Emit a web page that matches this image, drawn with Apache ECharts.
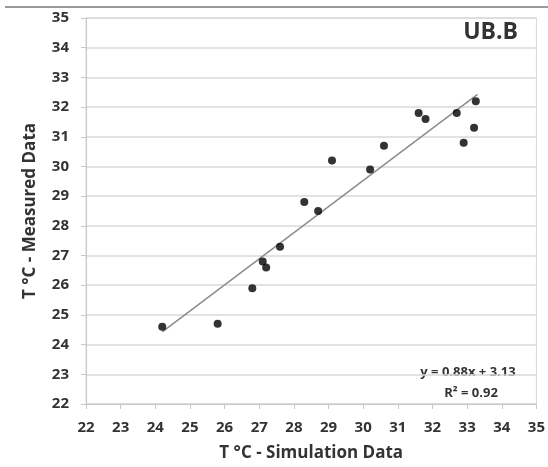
<!DOCTYPE html>
<html>
<head>
<meta charset="utf-8">
<script src="https://cdn.jsdelivr.net/npm/echarts@6/dist/echarts.min.js"></script>
<style>
  html, body { margin: 0; padding: 0; background: #fff; }
  #main { width: 548px; height: 467px; }
</style>
</head>
<body>
<div id="main"></div>
<script>
// simulated vs measured temperatures (UB.B)
const simX = [24.2, 25.8, 26.8, 27.1, 27.2, 27.6, 28.3, 28.7, 29.1, 30.2, 30.6, 31.6, 31.8, 32.7, 32.9, 33.2, 33.25];
const measY = [24.6, 24.7, 25.9, 26.8, 26.6, 27.3, 28.8, 28.5, 30.2, 29.9, 30.7, 31.8, 31.6, 31.8, 30.8, 31.3, 32.2];
// linear fit line ends
const trendX = [24.2, 33.3];
const trendY = [24.43, 32.43];
const axisMin = 22, axisMax = 35, axisStep = 1;

const points = simX.map((x, i) => [x, measY[i]]);
const trend = trendX.map((x, i) => [x, trendY[i]]);

let font = "'Open Sans', 'Liberation Sans', sans-serif";
let textColor = "#333";

let myChart = echarts.init(document.getElementById("main"));
let option = {
  backgroundColor: "#fff",
  animation: false,
  grid: {
    left: 86,
    right: 8,
    top: 18,
    bottom: 56,
    show: true,
    borderColor: "#d9d9d9",
    borderWidth: 1,
  },
  xAxis: {
    type: "value",
    min: axisMin,
    max: axisMax,
    interval: axisStep,
    name: "T °C - Simulation Data",
    nameLocation: "middle",
    nameGap: 41,
    nameTextStyle: { color: textColor, fontFamily: font, fontWeight: "bold", fontSize: 17 },
    axisLine: { show: true, lineStyle: { color: "#c8c8c8" } },
    axisTick: { show: true, length: 5, lineStyle: { color: "#c8c8c8" } },
    axisLabel: { color: textColor, fontFamily: font, fontWeight: "bold", fontSize: 15, margin: 16 },
    splitLine: { show: false },
  },
  yAxis: {
    type: "value",
    min: axisMin,
    max: axisMax,
    interval: axisStep,
    name: "T °C - Measured Data",
    nameLocation: "middle",
    nameGap: 47,
    nameTextStyle: { color: textColor, fontFamily: font, fontWeight: "bold", fontSize: 17 },
    axisLine: { show: true, lineStyle: { color: "#c8c8c8" } },
    axisTick: { show: true, length: 5, lineStyle: { color: "#c8c8c8" } },
    axisLabel: { color: textColor, fontFamily: font, fontWeight: "bold", fontSize: 15, margin: 17 },
    splitLine: { show: true, lineStyle: { color: "#d9d9d9", width: 1.5 } },
  },
  graphic: [
    {
      type: "line",
      shape: { x1: 5, y1: 7, x2: 548, y2: 7 },
      style: { stroke: "#9a9a9a", lineWidth: 2 },
    },
    {
      type: "text",
      right: 30,
      top: 21,
      style: { text: "UB.B", fill: "#333", font: "bold 23px " + font },
    },
    {
      type: "text",
      x: 468,
      y: 372,
      style: { text: "y = 0.88x + 3.13", fill: "#333", font: "bold 13px " + font, textAlign: "center", textVerticalAlign: "middle" },
    },
    {
      type: "text",
      x: 471,
      y: 393,
      style: { text: "R² = 0.92", fill: "#333", font: "bold 13px " + font, textAlign: "center", textVerticalAlign: "middle" },
    },
  ],
  series: [
    {
      type: "line",
      data: trend,
      symbol: "none",
      lineStyle: { color: "#8c8c8c", width: 1.5 },
      z: 2,
    },
    {
      type: "scatter",
      data: points,
      symbolSize: 8,
      itemStyle: { color: "#000" },
      z: 3,
    },
  ],
};
myChart.setOption(option);
</script>
</body>
</html>
